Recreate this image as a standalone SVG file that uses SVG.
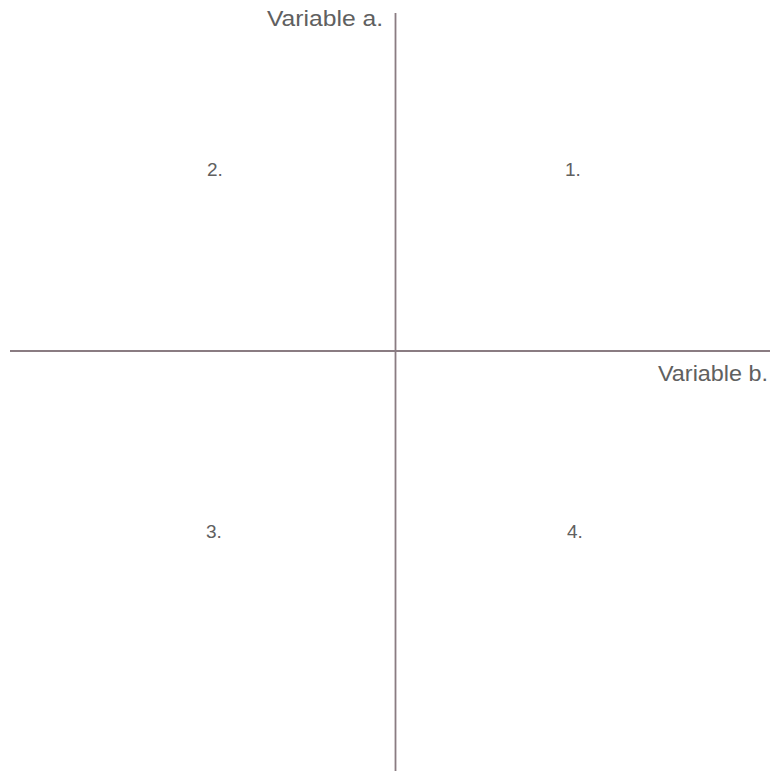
<svg xmlns="http://www.w3.org/2000/svg" width="776" height="771" viewBox="0 0 776 771">
<style>
.ax{stroke:#8a7c82;stroke-width:1.8;fill:none}
.lbl{font-family:"Liberation Sans",Arial,sans-serif;fill:#606060}
.num{font-size:19px}
</style>
<rect width="776" height="771" fill="#ffffff"/>
<g id="connectors">
<line class="ax" x1="395.5" y1="13" x2="395.5" y2="771"/>
<line class="ax" x1="10" y1="351" x2="770" y2="351"/>
</g>
<g id="axis-a"><text class="lbl" x="267" y="26" font-size="22" textLength="116" lengthAdjust="spacingAndGlyphs">Variable a.</text></g>
<g id="axis-b"><text class="lbl" x="658" y="381" font-size="22" textLength="110" lengthAdjust="spacingAndGlyphs">Variable b.</text></g>
<g id="q1"><text class="lbl num" x="565" y="176">1.</text></g>
<g id="q2"><text class="lbl num" x="207" y="176">2.</text></g>
<g id="q3"><text class="lbl num" x="206" y="538">3.</text></g>
<g id="q4"><text class="lbl num" x="567" y="538">4.</text></g>
</svg>
